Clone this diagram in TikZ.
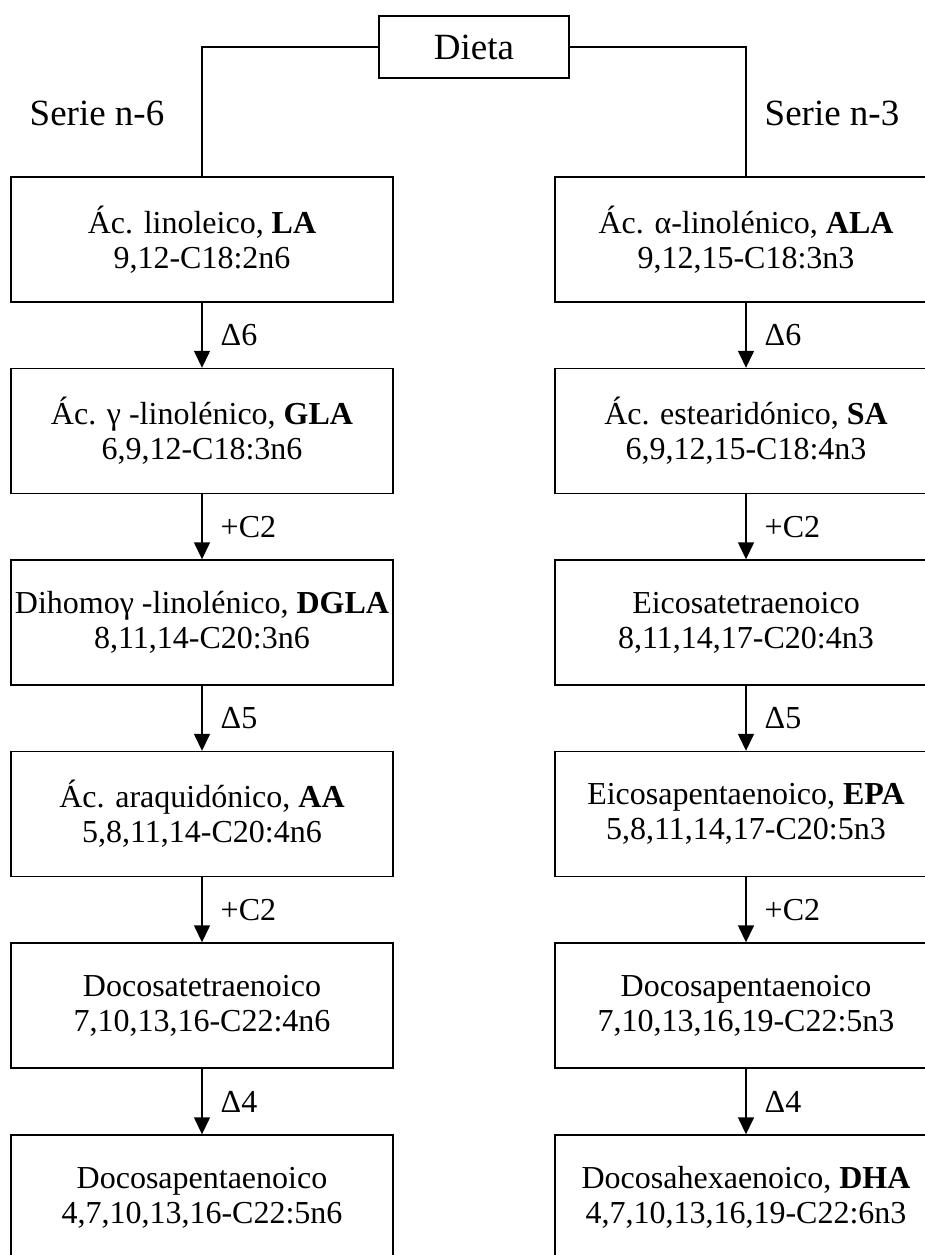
\documentclass[tikz,border=0pt]{standalone}
\usepackage{fontspec}
\setmainfont{Liberation Serif}
\usetikzlibrary{arrows.meta}
\begin{document}
\begin{tikzpicture}[x=1pt,y=-1pt,
  box/.style={draw,line width=1.4pt,minimum width=382pt,minimum height=125pt,align=center,inner sep=0pt,font=\fontsize{32}{35}\selectfont},
  topbox/.style={draw,line width=1.4pt,minimum width=190pt,minimum height=62pt,inner sep=0pt,font=\fontsize{37}{40}\selectfont},
  conn/.style={line width=1.4pt},
  arr/.style={line width=1.4pt,-{Triangle[length=17pt,width=16pt]}},
  lbl/.style={anchor=west,inner sep=0pt,font=\fontsize{32}{35}\selectfont},
  serie/.style={inner sep=0pt,font=\fontsize{37}{40}\selectfont}]
\useasboundingbox (0,0) rectangle (925,1255);
\clip (0,0) rectangle (925,1255);
\node[topbox] (dieta) at (474,47) {Dieta};
\node[serie] (s6) at (97,113) {Serie n-6};
\node[serie] (s3) at (832,113) {Serie n-3};
% left column
\node[box] (l1) at (202,239.5) {Ác. linoleico, \textbf{LA}\\9,12-C18:2n6};
\node[box] (l2) at (202,431) {Ác. γ -linolénico, \textbf{GLA}\\6,9,12-C18:3n6};
\node[box] (l3) at (202,622.5) {Dihomoγ -linolénico, \textbf{DGLA}\\8,11,14-C20:3n6};
\node[box] (l4) at (202,814) {Ác. araquidónico, \textbf{AA}\\5,8,11,14-C20:4n6};
\node[box] (l5) at (202,1005.5) {Docosatetraenoico\\7,10,13,16-C22:4n6};
\node[box] (l6) at (202,1197.5) {Docosapentaenoico\\4,7,10,13,16-C22:5n6};
% right column
\node[box] (r1) at (746,239.5) {Ác. α-linolénico, \textbf{ALA}\\9,12,15-C18:3n3};
\node[box] (r2) at (746,431) {Ác. estearidónico, \textbf{SA}\\6,9,12,15-C18:4n3};
\node[box] (r3) at (746,622.5) {Eicosatetraenoico\\8,11,14,17-C20:4n3};
\node[box] (r4) at (746,814) {Eicosapentaenoico, \textbf{EPA}\\5,8,11,14,17-C20:5n3};
\node[box] (r5) at (746,1005.5) {Docosapentaenoico\\7,10,13,16,19-C22:5n3};
\node[box] (r6) at (746,1197.5) {Docosahexaenoico, \textbf{DHA}\\4,7,10,13,16,19-C22:6n3};
% connectors from Dieta
\draw[conn] (dieta.west) -| (l1.north);
\draw[conn] (dieta.east) -| (r1.north);
% arrows
\foreach \a/\b/\t in {1/2/Δ6,2/3/+C2,3/4/Δ5,4/5/+C2,5/6/Δ4}{
  \draw[arr] (l\a.south) -- (l\b.north) node[lbl,midway,xshift=18pt] {\t};
  \draw[arr] (r\a.south) -- (r\b.north) node[lbl,midway,xshift=18pt] {\t};
}
\end{tikzpicture}
\end{document}
